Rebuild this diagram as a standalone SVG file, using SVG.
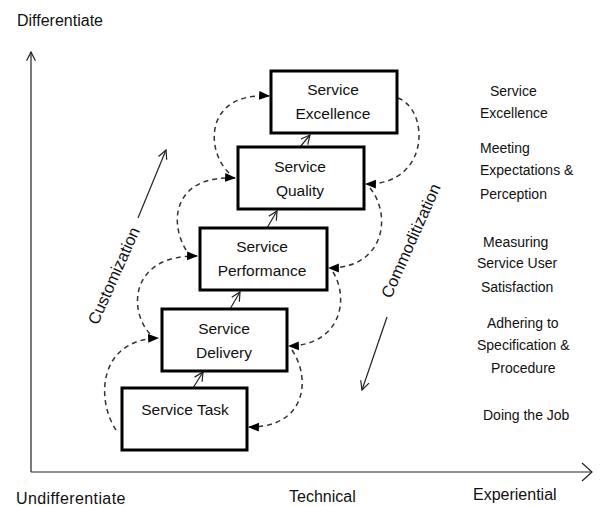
<svg xmlns="http://www.w3.org/2000/svg" width="600" height="506" viewBox="0 0 600 506">
<style>
  text { font-family: "Liberation Sans", Arial, sans-serif; fill: #111; }
  .box { fill: #fff; stroke: #000; stroke-width: 3; }
  .bt { font-size: 15.5px; text-anchor: middle; }
  .side { font-size: 14px; }
  .ax { font-size: 16px; }
  .dash { fill: none; stroke: #333; stroke-width: 1.5; stroke-dasharray: 5 4; }
  .thin { fill: none; stroke: #222; stroke-width: 1.2; }
</style>
<defs>
  <marker id="open" viewBox="0 0 10 10" refX="9" refY="5" markerWidth="11" markerHeight="11" markerUnits="userSpaceOnUse" orient="auto">
    <path d="M1,1 L9,5 L1,9" fill="none" stroke="#222" stroke-width="1.1"/>
  </marker>
  <marker id="openbig" viewBox="0 0 12 20" refX="11" refY="10" markerWidth="12" markerHeight="20" markerUnits="userSpaceOnUse" orient="auto">
    <path d="M1,1 L11,10 L1,19" fill="none" stroke="#222" stroke-width="1.2"/>
  </marker>
  <marker id="fill" viewBox="0 0 10 10" refX="9" refY="5" markerWidth="11" markerHeight="11" markerUnits="userSpaceOnUse" orient="auto">
    <path d="M0,1 L10,5 L0,9 Z" fill="#000"/>
  </marker>
</defs>

<g id="axes">
  <line x1="31" y1="472" x2="31" y2="52" class="thin" marker-end="url(#open)"/>
  <line x1="31" y1="472" x2="592" y2="472" class="thin" marker-end="url(#openbig)"/>
  <text class="ax" x="17" y="26">Differentiate</text>
  <text class="ax" x="16" y="504" letter-spacing="0.4">Undifferentiate</text>
  <text class="ax" x="289" y="502">Technical</text>
  <text class="ax" x="473" y="500">Experiential</text>
</g>

<g id="connectors">
  <line x1="193" y1="388" x2="203" y2="372" class="thin" marker-end="url(#open)"/>
  <line x1="230" y1="309" x2="240" y2="292" class="thin" marker-end="url(#open)"/>
  <line x1="267" y1="228" x2="277" y2="211" class="thin" marker-end="url(#open)"/>
  <line x1="300" y1="147" x2="310" y2="135" class="thin" marker-end="url(#open)"/>

  <path class="dash" d="M116,430 C96,400 98,340 158,338" marker-end="url(#fill)"/>
  <path class="dash" d="M150,334 C128,310 130,255 197,256" marker-end="url(#fill)"/>
  <path class="dash" d="M186,250 C168,220 175,175 235,178" marker-end="url(#fill)"/>
  <path class="dash" d="M229,173 C205,150 205,92 269,96" marker-end="url(#fill)"/>

  <path class="dash" d="M398,98 C430,110 430,185 366,184" marker-end="url(#fill)"/>
  <path class="dash" d="M370,188 C392,215 385,268 329,268" marker-end="url(#fill)"/>
  <path class="dash" d="M333,272 C350,300 340,345 289,346" marker-end="url(#fill)"/>
  <path class="dash" d="M292,350 C312,380 305,428 249,427" marker-end="url(#fill)"/>

  <line x1="138" y1="218" x2="166" y2="150" class="thin" marker-end="url(#open)"/>
  <line x1="387" y1="317" x2="362" y2="390" class="thin" marker-end="url(#open)"/>
</g>

<g id="node-task">
  <rect class="box" x="122" y="388" width="125" height="62"/>
  <text class="bt" x="185" y="415">Service Task</text>
</g>
<g id="node-delivery">
  <rect class="box" x="162" y="309" width="125" height="62"/>
  <text class="bt" x="224" y="334">Service</text>
  <text class="bt" x="224" y="358">Delivery</text>
</g>
<g id="node-performance">
  <rect class="box" x="200" y="228" width="127" height="62"/>
  <text class="bt" x="262" y="252">Service</text>
  <text class="bt" x="262" y="276">Performance</text>
</g>
<g id="node-quality">
  <rect class="box" x="238" y="147" width="126" height="62"/>
  <text class="bt" x="300" y="172">Service</text>
  <text class="bt" x="300" y="196">Quality</text>
</g>
<g id="node-excellence">
  <rect class="box" x="271" y="71" width="126" height="62"/>
  <text class="bt" x="333" y="95">Service</text>
  <text class="bt" x="333" y="119">Excellence</text>
</g>

<g id="labels">
  <text font-size="16.5" text-anchor="middle" transform="translate(119,278) rotate(-66)">Customization</text>
  <text font-size="16.5" text-anchor="middle" transform="translate(416,243) rotate(-66)">Commoditization</text>
  <text class="side" x="490" y="96">Service</text>
  <text class="side" x="480" y="118">Excellence</text>
  <text class="side" x="480" y="153">Meeting</text>
  <text class="side" x="480" y="175">Expectations &amp;</text>
  <text class="side" x="480" y="199">Perception</text>
  <text class="side" x="483" y="247">Measuring</text>
  <text class="side" x="477" y="268">Service User</text>
  <text class="side" x="481" y="292">Satisfaction</text>
  <text class="side" x="487" y="328">Adhering to</text>
  <text class="side" x="477" y="350">Specification &amp;</text>
  <text class="side" x="491" y="373">Procedure</text>
  <text class="side" x="483" y="420">Doing the Job</text>
</g>
</svg>
